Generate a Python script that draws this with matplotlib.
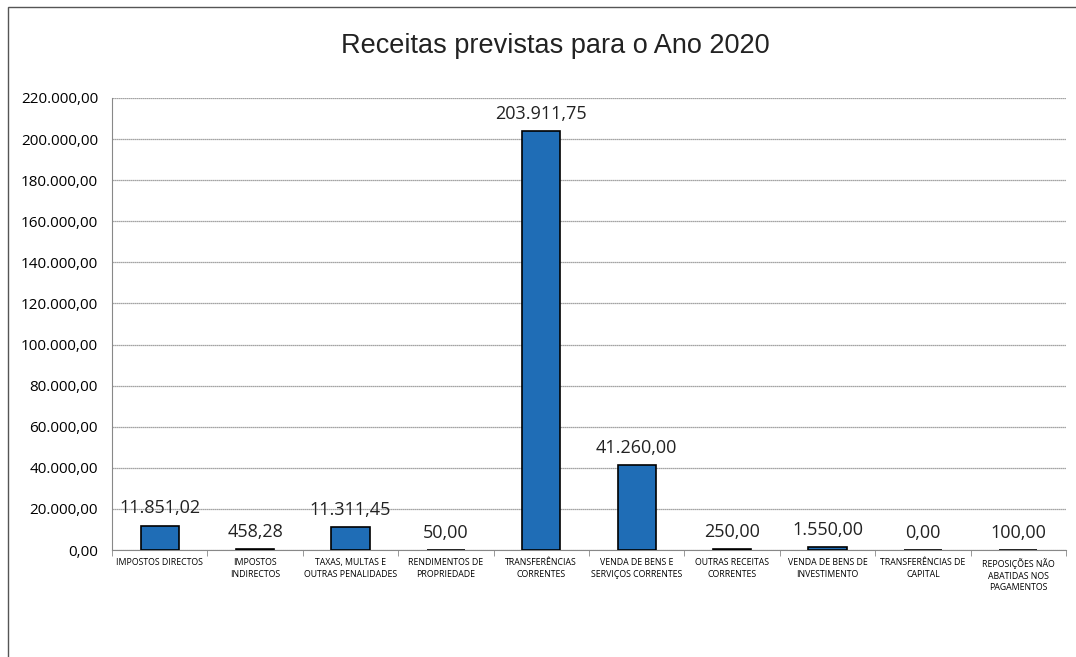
import matplotlib
matplotlib.use("Agg")
import matplotlib.pyplot as plt
import numpy as np

categories = [
    "IMPOSTOS DIRECTOS",
    "IMPOSTOS\nINDIRECTOS",
    "TAXAS, MULTAS E\nOUTRAS PENALIDADES",
    "RENDIMENTOS DE\nPROPRIEDADE",
    "TRANSFERÊNCIAS\nCORRENTES",
    "VENDA DE BENS E\nSERVIÇOS CORRENTES",
    "OUTRAS RECEITAS\nCORRENTES",
    "VENDA DE BENS DE\nINVESTIMENTO",
    "TRANSFERÊNCIAS DE\nCAPITAL",
    "REPOSIÇÕES NÃO\nABATIDAS NOS\nPAGAMENTOS",
]
values = [11851.02, 458.28, 11311.45, 50.00, 203911.75, 41260.00, 250.00, 1550.00, 0.00, 100.00]
value_labels = ["11.851,02", "458,28", "11.311,45", "50,00", "203.911,75", "41.260,00",
                "250,00", "1.550,00", "0,00", "100,00"]
yticks = list(range(0, 220001, 20000))
title = "Receitas previstas para o Ano 2020"

def fmt(v):
    s = f"{v:,.2f}"
    return s.replace(",", "X").replace(".", ",").replace("X", ".")

W, H = 1076, 657
fig = plt.figure(figsize=(W / 100, H / 100), dpi=100)
fig.patch.set_facecolor("white")

# outer chart frame
frame = plt.Rectangle((8 / W, -0.05), 1.2, (H - 7) / H + 0.05, transform=fig.transFigure,
                      fill=False, edgecolor="#555555", linewidth=1.0)
fig.add_artist(frame)

left, right = 112 / W, 1066 / W
bottom, top = 1 - 550 / H, 1 - 98 / H
ax = fig.add_axes([left, bottom, right - left, top - bottom])

x = np.arange(len(categories))
ax.bar(x, values, width=0.4, color="#1f6db6", edgecolor="black", linewidth=1.2, zorder=3)

ax.set_xlim(-0.5, len(categories) - 0.5)
ax.set_ylim(0, 220000)
ax.set_yticks(yticks)
ax.set_yticklabels([fmt(v) for v in yticks], fontsize=11, family="Open Sans")
ax.yaxis.grid(True, color="#888888", linestyle=(0, (1, 0.6)), linewidth=0.9, zorder=0)
ax.tick_params(axis="y", length=0, pad=10)

ax.set_xticks(x)
ax.set_xticklabels(categories, fontsize=6.3, family="Open Sans", linespacing=1.35)
ax.set_xticks(np.arange(-0.5, len(categories), 1), minor=True)
ax.tick_params(axis="x", which="major", length=0, pad=6)
ax.tick_params(axis="x", which="minor", length=4, color="#888888", direction="out")

for s in ["top", "right"]:
    ax.spines[s].set_visible(False)
ax.spines["left"].set_color("#888888")
ax.spines["bottom"].set_color("#888888")

offset = 4000
for xi, v, lab in zip(x, values, value_labels):
    ax.text(xi, v + offset, lab, ha="center", va="bottom", fontsize=13, family="Open Sans",
            color="#222222", zorder=4)

fig.text(555 / W, 1 - 46 / H, title, ha="center", va="center", fontsize=19.5, family="Liberation Sans",
         color="#222222")

fig.savefig("out.png", dpi=100)
